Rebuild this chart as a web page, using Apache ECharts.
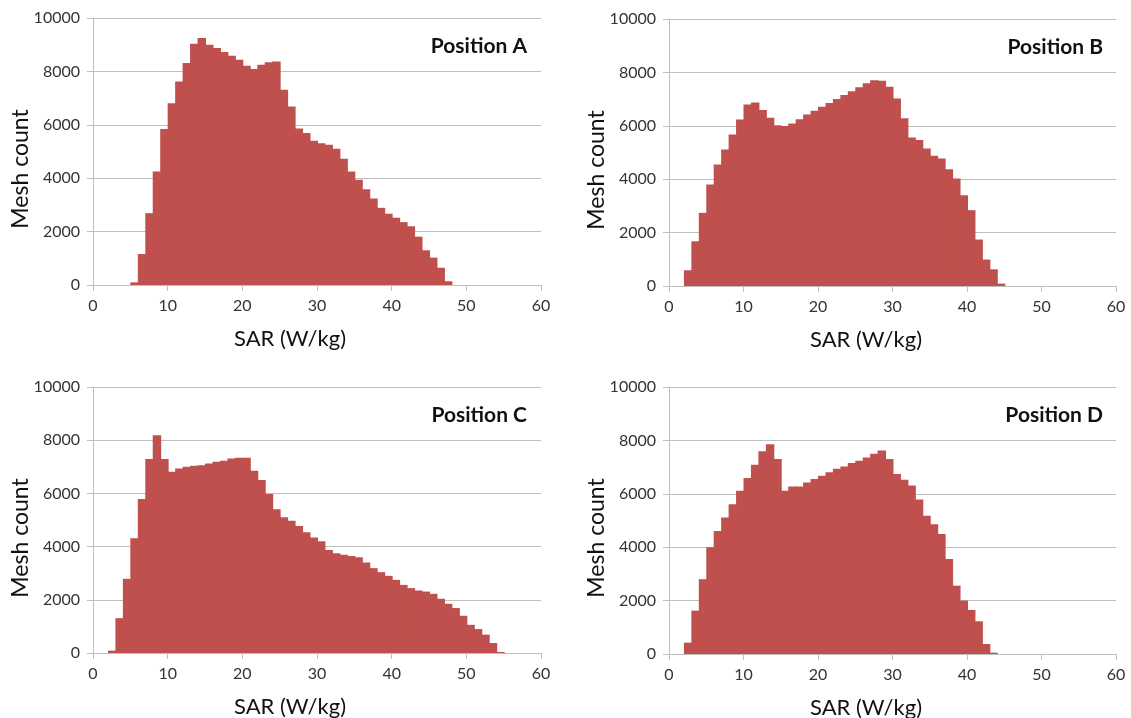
<!DOCTYPE html>
<html>
<head>
<meta charset="utf-8">
<script src="https://cdn.jsdelivr.net/npm/echarts@6/dist/echarts.min.js"></script>
<style>
  html, body { margin: 0; padding: 0; background: #fff; }
  #chart { width: 1131px; height: 718px; }
</style>
</head>
<body>
<div id="chart"></div>
<script>
// SAR bins are 1 W/kg wide, each value is the mesh count of the bin [x, x+1)
const xTicks = [0, 60, 10];
const yTicks = [0, 10000, 2000];
const panelNames = ['Position A', 'Position B', 'Position C', 'Position D'];

const startA = 5;
const countsA = [100, 1160, 2690, 4250, 5840, 6810, 7625, 8310, 9040, 9250, 9000, 8875, 8725, 8590, 8440,
  8210, 8090, 8250, 8340, 8375, 7310, 6690, 5860, 5690, 5400, 5310, 5250, 5100, 4725, 4250, 3940,
  3590, 3240, 2890, 2670, 2520, 2355, 2200, 1810, 1300, 1025, 645, 140];

const startB = 2;
const countsB = [590, 1675, 2740, 3800, 4550, 5110, 5675, 6240, 6800, 6875, 6590, 6300, 6025, 5990, 6090,
  6250, 6425, 6560, 6710, 6850, 7000, 7150, 7290, 7440, 7590, 7710, 7690, 7460, 7025, 6280, 5565,
  5465, 5150, 4875, 4775, 4375, 4025, 3400, 2840, 1740, 990, 625, 90];

const startC = 2;
const countsC = [90, 1310, 2790, 4310, 5790, 7290, 8190, 7290, 6810, 6940, 7000, 7040, 7060, 7125, 7190,
  7225, 7310, 7340, 7340, 6850, 6500, 5975, 5400, 5100, 4975, 4775, 4540, 4340, 4200, 3875, 3750,
  3690, 3650, 3600, 3400, 3190, 3040, 2900, 2750, 2560, 2440, 2350, 2310, 2225, 2040, 1850, 1690,
  1400, 1060, 900, 690, 375, 40];

const startD = 2;
const countsD = [425, 1625, 2800, 4000, 4610, 5110, 5610, 6110, 6590, 7090, 7590, 7860, 7300, 6110, 6275,
  6275, 6425, 6550, 6675, 6810, 6940, 7025, 7150, 7240, 7360, 7500, 7625, 7300, 6740, 6525, 6310,
  5790, 5175, 4860, 4490, 3560, 2560, 2000, 1650, 1225, 375, 50];

const panels = [
  { start: startA, counts: countsA, left: 93, top: 18, width: 448, height: 267 },
  { start: startB, counts: countsB, left: 669, top: 19, width: 447, height: 267 },
  { start: startC, counts: countsC, left: 93, top: 387, width: 448, height: 266 },
  { start: startD, counts: countsD, left: 669, top: 387, width: 447, height: 267 }
];

const BAR = '#c0504d';
const GRID = '#bfbfbf';
const FONT = 'Lato';

function renderBin(params, api) {
  const x = api.value(0);
  const p0 = api.coord([x, api.value(1)]);
  const p1 = api.coord([x + 1, 0]);
  // a little overlap so neighbouring bins show no seam
  return {
    type: 'rect',
    shape: { x: p0[0], y: p0[1], width: p1[0] - p0[0] + 1, height: p1[1] - p0[1] },
    style: { fill: BAR }
  };
}

const chart = echarts.init(document.getElementById('chart'));

const grid = panels.map(p => ({ left: p.left, top: p.top, width: p.width, height: p.height }));

const xAxis = panels.map((p, i) => ({
  type: 'value', gridIndex: i, min: xTicks[0], max: xTicks[1], interval: xTicks[2],
  axisLine: { show: true, lineStyle: { color: GRID, width: 1 } },
  axisTick: { show: true, length: 6, lineStyle: { color: GRID } },
  splitLine: { show: false },
  axisLabel: { color: '#333', fontFamily: FONT, fontSize: 16, margin: 13 }
}));

const yAxis = panels.map((p, i) => ({
  type: 'value', gridIndex: i, min: yTicks[0], max: yTicks[1], interval: yTicks[2],
  axisLine: { show: true, lineStyle: { color: GRID, width: 1 } },
  axisTick: { show: true, length: 6, lineStyle: { color: GRID } },
  splitLine: { show: true, lineStyle: { color: GRID, width: 1 } },
  axisLabel: { color: '#333', fontFamily: FONT, fontSize: 16, margin: 13, formatter: v => String(v) }
}));

const series = panels.map((p, i) => ({
  type: 'custom', xAxisIndex: i, yAxisIndex: i,
  renderItem: renderBin,
  encode: { x: 0, y: 1 },
  data: p.counts.map((v, k) => [p.start + k, v]),
  silent: true
}));

// text around each panel: title, x name, y name
const graphic = [];
panels.forEach((p, i) => {
  const x0 = p.left, yBase = p.top + p.height;
  graphic.push({ type: 'text', x: x0 + 434, y: p.top + 28, style: { text: panelNames[i], fontFamily: FONT, fontSize: 21, fontWeight: 'bold', fill: '#111', align: 'right', verticalAlign: 'middle' } });
  graphic.push({ type: 'text', x: x0 + 197, y: yBase + 54, style: { text: 'SAR (W/kg)', fontFamily: FONT, fontSize: 22, fill: '#111', align: 'center', verticalAlign: 'middle' } });
  graphic.push({ type: 'text', x: x0 - 72, y: p.top + 151, rotation: Math.PI / 2, style: { text: 'Mesh count', fontFamily: FONT, fontSize: 23, fill: '#111', align: 'center', verticalAlign: 'middle' } });
});

chart.setOption({
  backgroundColor: '#fff',
  animation: false,
  grid, xAxis, yAxis, series, graphic
});
window.addEventListener('resize', () => chart.resize());
</script>
</body>
</html>
